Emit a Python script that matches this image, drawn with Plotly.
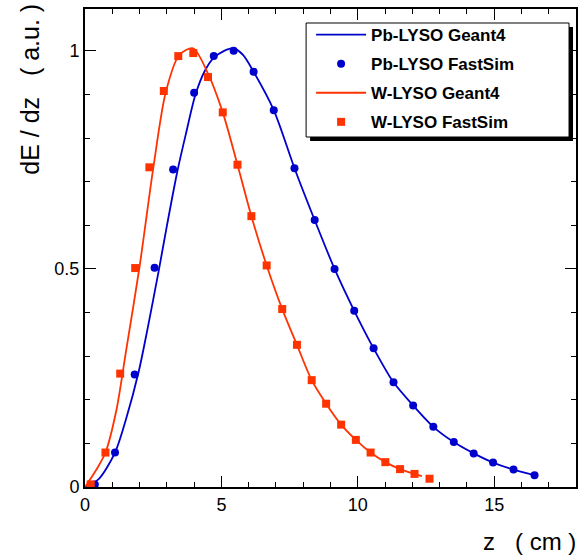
import plotly.graph_objects as go

# ---- data ----
pb_g4_z = [0.0, 0.5, 1.1, 1.5, 1.97, 2.3, 2.7, 3.0, 3.39, 3.7, 4.05, 4.4, 4.7, 5.1, 5.45,
           5.8, 6.18, 6.92, 7.68, 8.42, 9.15, 9.87, 10.58, 11.31, 12.03, 12.77, 13.52,
           14.25, 14.96, 15.71, 16.48]
pb_g4_e = [0.0, 0.018, 0.079, 0.155, 0.265, 0.365, 0.495, 0.598, 0.725, 0.81, 0.9, 0.955, 0.983,
           1.0, 1.006, 0.99, 0.952, 0.864, 0.731, 0.612, 0.5, 0.404, 0.318, 0.24, 0.187,
           0.138, 0.103, 0.077, 0.056, 0.040, 0.027]

pb_fs_z = [0.36, 1.10, 1.82, 2.55, 3.23, 4.00, 4.72, 5.45, 6.18, 6.92, 7.68, 8.42, 9.15,
           9.87, 10.58, 11.31, 12.03, 12.77, 13.52, 14.25, 14.96, 15.71, 16.48]
pb_fs_e = [0.006, 0.079, 0.258, 0.503, 0.728, 0.904, 0.988, 1.0, 0.952, 0.864, 0.731, 0.612,
           0.500, 0.404, 0.318, 0.240, 0.187, 0.138, 0.103, 0.077, 0.056, 0.040, 0.027]

w_g4_z = [0.0, 0.42, 0.75, 1.15, 1.51, 2.0, 2.5, 2.96, 3.45, 3.96, 4.51, 5.05, 5.59, 6.10,
          6.66, 7.23, 7.77, 8.31, 8.84, 9.39, 9.93, 10.47, 11.01, 11.55, 12.08, 12.35]
w_g4_e = [0.0, 0.04, 0.079, 0.176, 0.314, 0.505, 0.73, 0.905, 0.99, 1.006, 0.948, 0.859,
          0.739, 0.621, 0.508, 0.408, 0.326, 0.245, 0.191, 0.143, 0.108, 0.079, 0.057,
          0.041, 0.030, 0.025]

w_fs_z = [0.21, 0.75, 1.29, 1.84, 2.36, 2.89, 3.42, 3.97, 4.51, 5.05, 5.59, 6.10, 6.66, 7.23,
          7.77, 8.31, 8.84, 9.39, 9.93, 10.47, 11.01, 11.55, 12.08, 12.63]
w_fs_e = [0.006, 0.079, 0.260, 0.502, 0.733, 0.908, 0.988, 0.995, 0.940, 0.859, 0.739, 0.621,
          0.508, 0.408, 0.326, 0.245, 0.191, 0.143, 0.108, 0.079, 0.057, 0.041, 0.030, 0.019]

x_ticks = [0, 5, 10, 15]
y_ticks = [0, 0.5, 1]
y_tick_text = ["0", "0.5", "1"]

BLUE = "#0000cc"
RED = "#ff3300"
FONT = "Liberation Sans, Arial, Helvetica, sans-serif"

fig = go.Figure()
fig.add_trace(go.Scatter(x=pb_g4_z, y=pb_g4_e, mode="lines", name="Pb-LYSO Geant4",
                         line=dict(color=BLUE, width=1.8, shape="spline", smoothing=0.8),
                         legendgroup="a"))
fig.add_trace(go.Scatter(x=pb_fs_z, y=pb_fs_e, mode="markers", name="Pb-LYSO FastSim",
                         marker=dict(color=BLUE, size=8, symbol="circle"),
                         legendgroup="b"))
fig.add_trace(go.Scatter(x=w_g4_z, y=w_g4_e, mode="lines", name="W-LYSO Geant4",
                         line=dict(color=RED, width=1.8, shape="spline", smoothing=0.8),
                         legendgroup="c"))
fig.add_trace(go.Scatter(x=w_fs_z, y=w_fs_e, mode="markers", name="W-LYSO FastSim",
                         marker=dict(color=RED, size=8, symbol="square"),
                         legendgroup="d"))

W, H = 583, 557
L, R, T, B = 85, 5, 9, 70
pw, ph = W - L - R, H - T - B


def px(xp):
    return (xp - L) / pw


def py(yp):
    return (H - B - yp) / ph


axis_common = dict(showline=True, linecolor="black", linewidth=2, mirror="ticks",
                   ticks="inside", ticklen=11, tickwidth=1.2, tickcolor="black",
                   showgrid=False, zeroline=False,
                   tickfont=dict(family=FONT, size=18, color="black"))

fig.update_xaxes(range=[0, 18], tickvals=x_ticks,
                 minor=dict(dtick=1, ticklen=5, ticks="inside", tickcolor="black", tickwidth=1.2),
                 **axis_common)
fig.update_yaxes(range=[0, 1.096], tickvals=y_ticks, ticktext=y_tick_text,
                 minor=dict(dtick=0.1, ticklen=5, ticks="inside", tickcolor="black", tickwidth=1.2),
                 **axis_common)

# legend box with shadow
fig.add_shape(type="rect", xref="paper", yref="paper",
              x0=px(311), x1=px(575), y0=py(141), y1=py(27),
              fillcolor="black", line=dict(width=0), layer="above")
fig.add_shape(type="rect", xref="paper", yref="paper",
              x0=px(307), x1=px(571), y0=py(137), y1=py(23),
              fillcolor="white", line=dict(color="black", width=1), layer="above")

fig.add_annotation(text="z   ( cm )", xref="paper", yref="paper", x=px(580), y=py(541),
                   xanchor="right", yanchor="middle", showarrow=False,
                   font=dict(family=FONT, size=24, color="black"))
fig.add_annotation(text="dE / dz   ( a.u. )", xref="paper", yref="paper", x=px(30), y=py(2),
                   xanchor="center", yanchor="top", textangle=-90, showarrow=False,
                   font=dict(family=FONT, size=25, color="black"))

fig.update_layout(
    width=W, height=H,
    margin=dict(l=L, r=R, t=T, b=B),
    plot_bgcolor="white", paper_bgcolor="white",
    showlegend=True,
    legend=dict(x=px(312), y=py(17), xanchor="left", yanchor="top",
                bgcolor="rgba(0,0,0,0)", borderwidth=0,
                font=dict(family=FONT, size=17, color="black", weight="bold"),
                itemwidth=50, tracegroupgap=4, traceorder="grouped"),
)

fig.write_html("out.html")
